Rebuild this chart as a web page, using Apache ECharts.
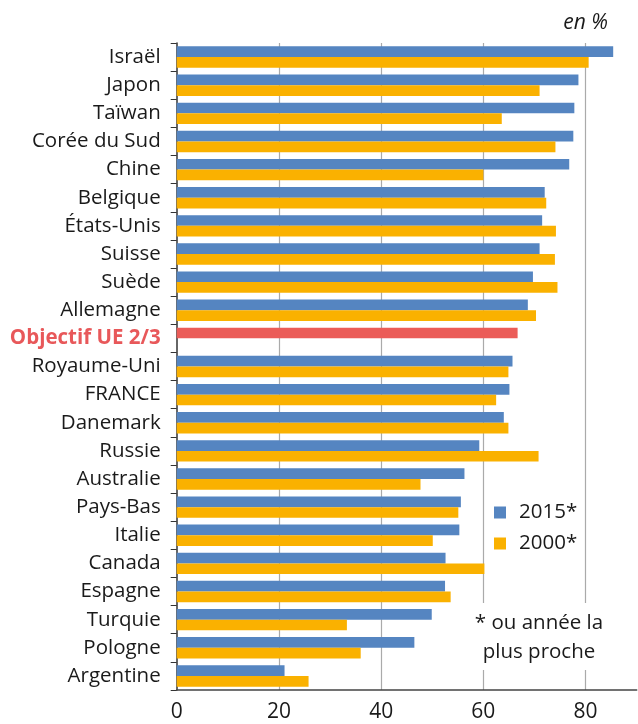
<!DOCTYPE html>
<html>
<head>
<meta charset="utf-8">
<script src="https://cdn.jsdelivr.net/npm/echarts@6/dist/echarts.min.js"></script>
<style>
  html, body { margin: 0; padding: 0; background: #fff; }
  #chart { width: 638px; height: 724px; }
</style>
</head>
<body>
<div id="chart"></div>
<script>
// pays, du haut vers le bas
const pays = ['Israël', 'Japon', 'Taïwan', 'Corée du Sud', 'Chine', 'Belgique', 'États-Unis', 'Suisse', 'Suède', 'Allemagne',
  'Objectif UE 2/3', 'Royaume-Uni', 'FRANCE', 'Danemark', 'Russie', 'Australie', 'Pays-Bas', 'Italie', 'Canada', 'Espagne',
  'Turquie', 'Pologne', 'Argentine']
const val2015 = [85.4, 78.6, 77.8, 77.6, 76.8, 72.0, 71.5, 71.0, 69.7, 68.7,
  66.7, 65.7, 65.1, 64.0, 59.2, 56.3, 55.6, 55.3, 52.6, 52.5, 49.9, 46.5, 21.1]
const val2000 = [80.6, 71.0, 63.6, 74.1, 60.0, 72.3, 74.2, 74.0, 74.5, 70.3,
  null, 64.9, 62.5, 64.9, 70.8, 47.7, 55.1, 50.1, 60.2, 53.6, 33.3, 36.0, 25.8]
const xTicks = [0, 20, 40, 60, 80]
const objectif = 'Objectif UE 2/3'

const font = 'Open Sans'
const chart = echarts.init(document.getElementById('chart'))

const data2015 = val2015.map((v, i) => pays[i] === objectif
  ? { value: v, itemStyle: { color: '#EB5C58' } }
  : v)

chart.setOption({
  animation: false,
  textStyle: { fontFamily: font },
  grid: { left: 176.7, top: 43, width: 460, bottom: 34 },
  legend: {
    orient: 'vertical',
    left: 489, top: 497,
    itemWidth: 12, itemHeight: 12, itemGap: 10,
    icon: 'rect',
    textStyle: { fontSize: 20.5, lineHeight: 20, color: '#1a1a1a', fontFamily: font, padding: [0, 0, 0, 8] },
    data: ['2015*', '2000*']
  },
  xAxis: {
    type: 'value',
    min: 0, max: 90, interval: 20,
    axisLine: { show: true, lineStyle: { color: '#444', width: 1.5 } },
    axisTick: { show: false },
    axisLabel: {
      fontSize: 21, color: '#1a1a1a', margin: 12, showMaxLabel: false,
      formatter: v => xTicks.includes(v) ? String(v) : ''
    },
    splitLine: { show: true, showMinLine: false, showMaxLine: false, lineStyle: { color: '#aaa', width: 1.2 } }
  },
  yAxis: {
    type: 'category',
    inverse: true,
    data: pays,
    axisLine: { show: true, lineStyle: { color: '#333', width: 1.5 } },
    axisTick: { show: true, length: 6, lineStyle: { color: '#333' } },
    axisLabel: {
      fontSize: 20.5, color: '#1a1a1a', margin: 16,
      formatter: v => v === objectif ? '{r|' + v + '}' : v,
      rich: { r: { fontSize: 20.5, fontWeight: 'bold', color: '#E8585A', fontFamily: font } }
    }
  },
  series: [
    { name: '2015*', type: 'bar', data: data2015, barWidth: 10.7, barGap: '0%', itemStyle: { color: '#5585C1' } },
    { name: '2000*', type: 'bar', data: val2000, barWidth: 10.7, barGap: '0%', itemStyle: { color: '#FAB100' } }
  ],
  graphic: [
    {
      type: 'text', x: 608, y: 23,
      style: { text: 'en %', fontSize: 21, fontStyle: 'italic', fill: '#1a1a1a', fontFamily: font,
        textAlign: 'right', textVerticalAlign: 'middle' }
    },
    {
      type: 'rect', x: 476, y: 603, z: 10,
      shape: { width: 130, height: 67 },
      style: { fill: '#fff' }
    },
    {
      type: 'text', x: 539, y: 637.5, z: 11,
      style: {
        text: '* ou année la\nplus proche', fontSize: 20.5, lineHeight: 29,
        fill: '#1a1a1a', textAlign: 'center', textVerticalAlign: 'middle', fontFamily: font
      }
    }
  ]
})
</script>
</body>
</html>
